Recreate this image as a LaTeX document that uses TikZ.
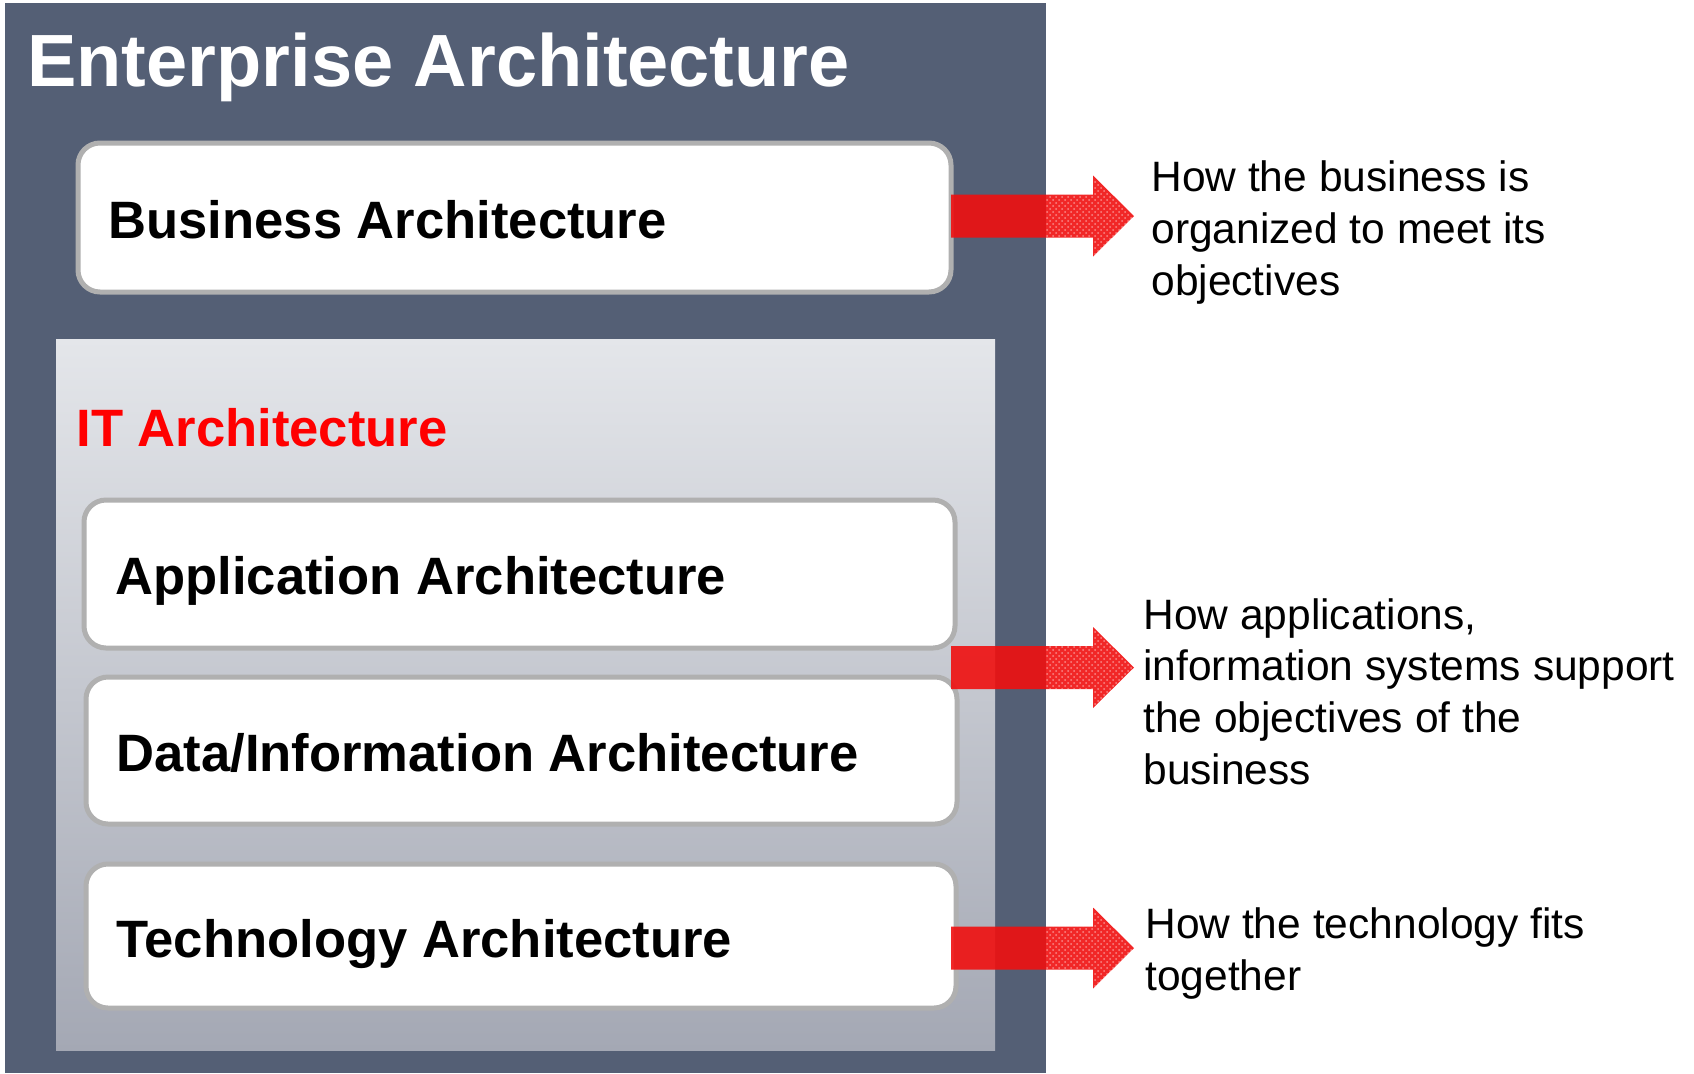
\documentclass[tikz,border=0pt]{standalone}
\usepackage{fontspec}
\setmainfont{Liberation Sans}
\usetikzlibrary{calc,patterns}
\definecolor{panel}{RGB}{84,95,117}
\definecolor{ittop}{RGB}{228,230,234}
\definecolor{itbot}{RGB}{164,168,180}
\definecolor{boxline}{RGB}{176,176,176}
\definecolor{arrred}{RGB}{240,16,16}
\tikzset{
  layerbox/.style={draw=boxline, line width=2.5pt, fill=white, rounded corners=11pt},
  boxtext/.style={anchor=base west, inner sep=0pt, font=\fontsize{26.3pt}{31pt}\selectfont\bfseries},
  note/.style={anchor=base west, inner sep=0pt, align=left, font=\fontsize{21.25pt}{25.8pt}\selectfont},
  bigarrow/.style={fill=arrred, fill opacity=0.9},
  arrowtexture/.style={pattern=crosshatch dots, pattern color=white, opacity=0.45}
}
\newcommand\arrowpath[1]{($(#1)+(0,-21.5)$) -- ($(#1)+(142,-21.5)$) -- ($(#1)+(142,-40.5)$) --
    ($(#1)+(183,0)$) -- ($(#1)+(142,40.5)$) -- ($(#1)+(142,21.5)$) -- ($(#1)+(0,21.5)$) -- cycle}
\newcommand\redarrow[1]{%
  \fill[bigarrow] \arrowpath{#1};
  \begin{scope}
    \clip (1046,0) rectangle (1694,1073);
    \fill[arrowtexture] \arrowpath{#1};
  \end{scope}}
\begin{document}
\begin{tikzpicture}[x=0.5pt,y=-0.5pt]
\useasboundingbox (0,0) rectangle (1694,1073);
% enterprise panel
\fill[panel] (5,3) rectangle (1046,1073);
\node[anchor=base west, inner sep=0pt, text=white, font=\fontsize{37pt}{44pt}\selectfont\bfseries] (title) at (27,86) {Enterprise Architecture};
% business box
\draw[layerbox] (78,143) rectangle (951,292);
\node[boxtext] (biz) at (108,238) {Business Architecture};
% IT panel
\shade[top color=ittop, bottom color=itbot] (56,339) rectangle (995,1050);
\node[anchor=base west, inner sep=0pt, text=red, font=\fontsize{26.3pt}{31pt}\selectfont\bfseries] (it) at (76,446) {IT Architecture};
\draw[layerbox] (84,500) rectangle (955,648);
\node[boxtext] (app) at (115,594) {Application Architecture};
\draw[layerbox] (86,677) rectangle (957,824);
\node[boxtext] (data) at (116,771) {Data/Information Architecture};
\draw[layerbox] (86,864) rectangle (956,1008);
\node[boxtext] (tech) at (116,957) {Technology Architecture};
% notes (anchored at the baseline of their last line)
\node[note] (n1) at (1151,295) {How the business is\\organized to meet its\\objectives};
\node[note] (n2) at (1143,784) {How applications,\\information systems support\\the objectives of the\\business};
\node[note] (n3) at (1145,990) {How the technology fits\\together};
% arrows
\coordinate (a1) at (951,216);
\coordinate (a2) at (951,667.5);
\coordinate (a3) at (951,948);
\redarrow{a1}
\redarrow{a2}
\redarrow{a3}
\end{tikzpicture}
\end{document}
